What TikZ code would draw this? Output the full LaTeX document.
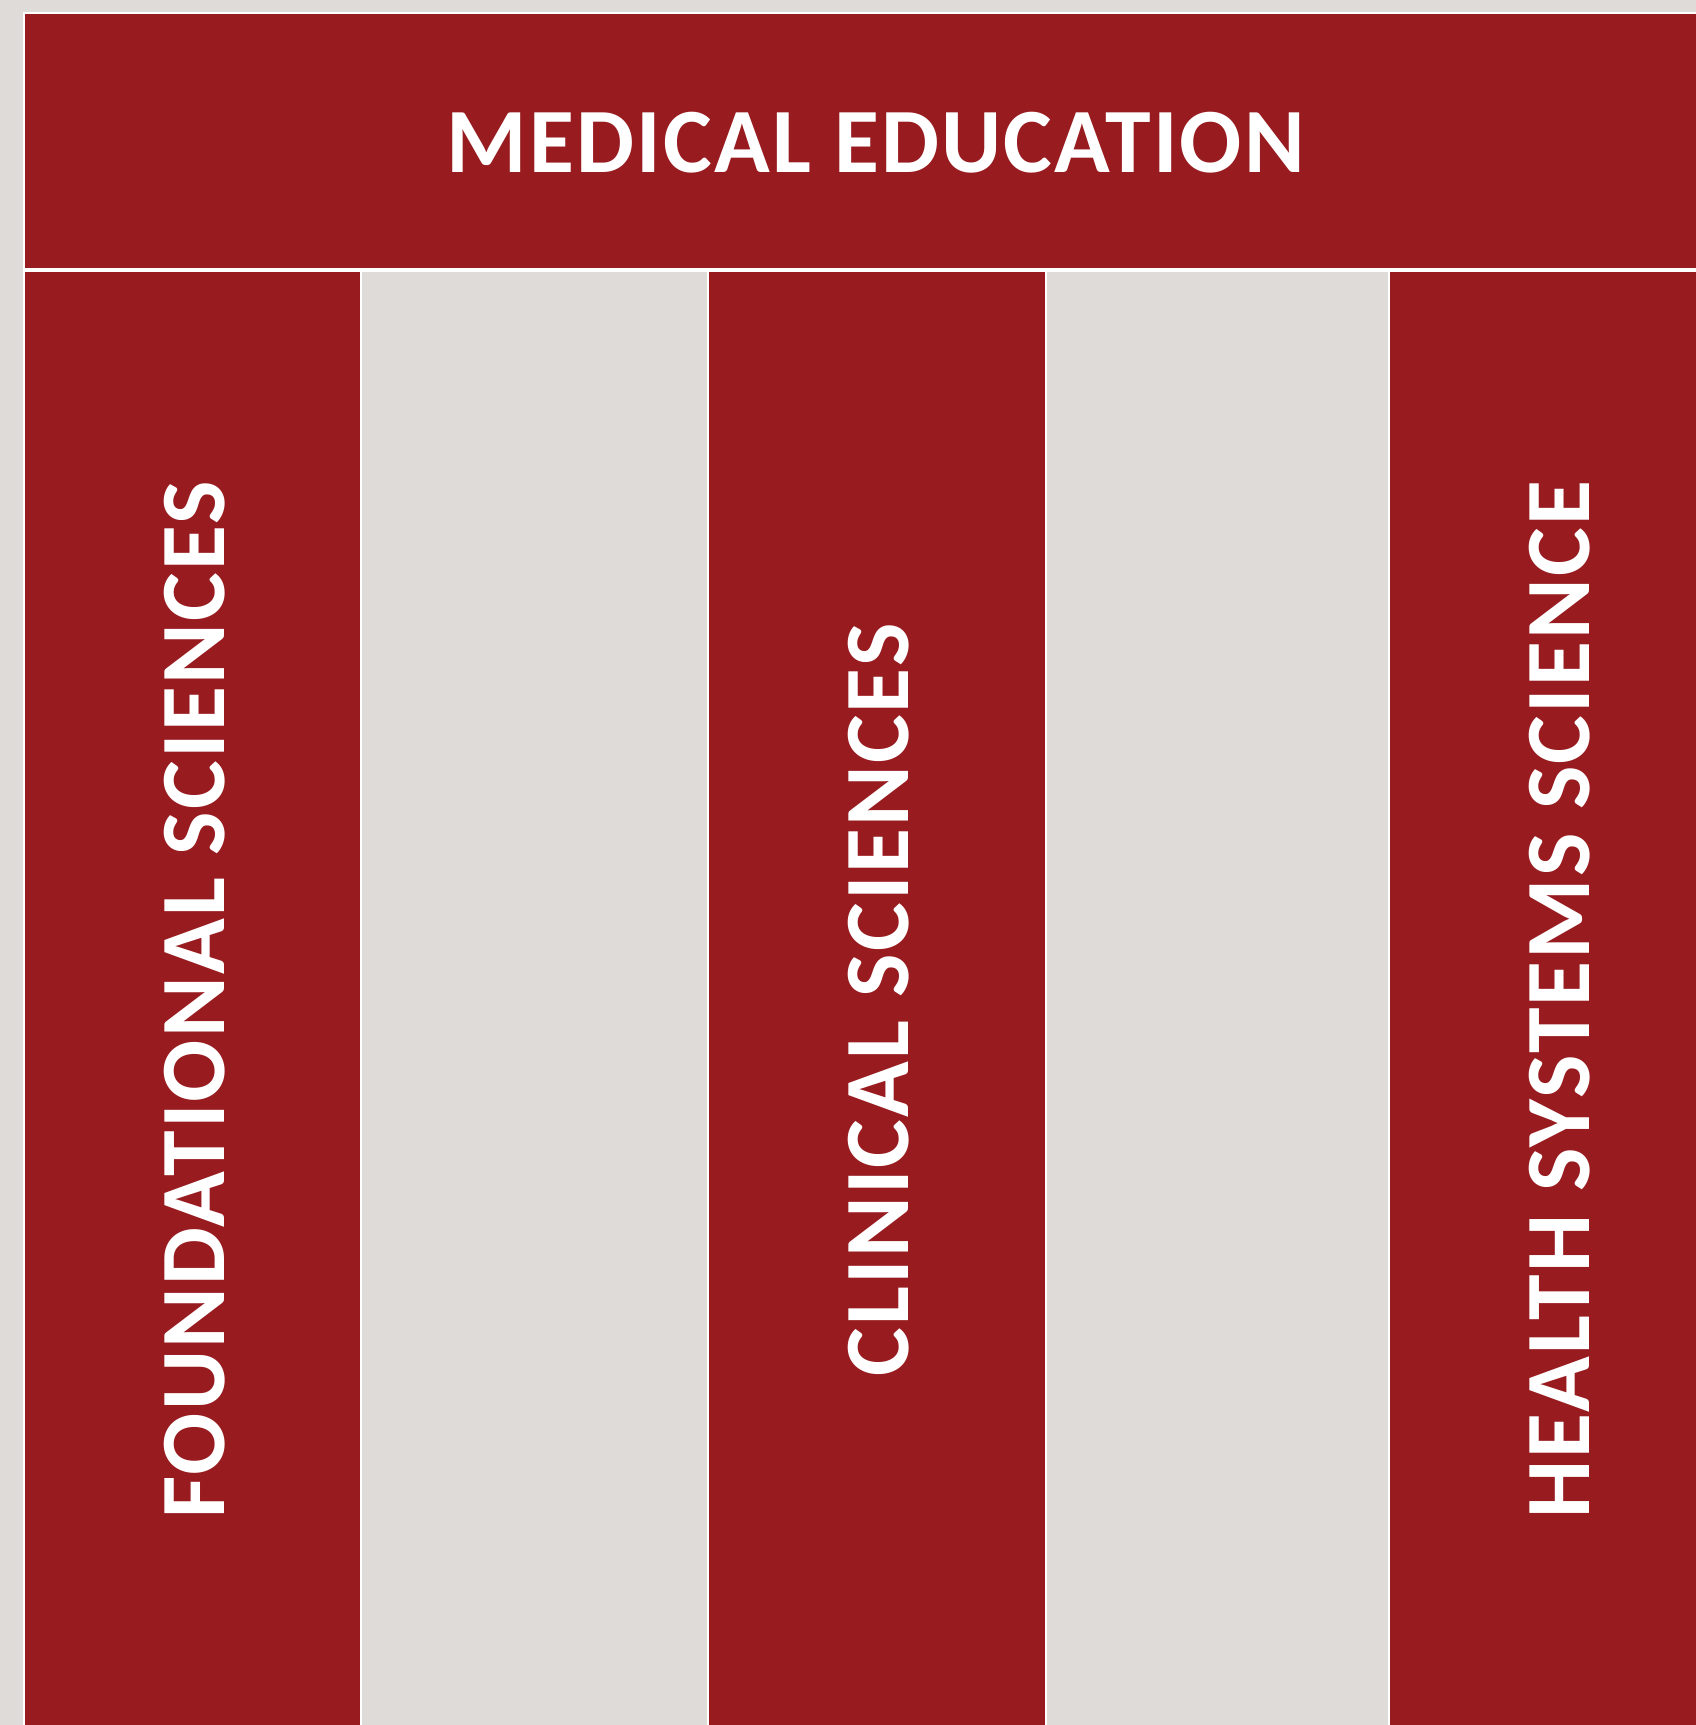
\documentclass[tikz,border=0pt]{standalone}
\usepackage{fontspec}
\setmainfont{Carlito}[LetterSpace=2.4]
\usepackage{tikz}
\definecolor{medred}{HTML}{981B1F}
\definecolor{medgrey}{HTML}{DEDBD8}
\tikzset{
  redbox/.style={fill=medred,draw=white,line width=2pt},
  greybox/.style={fill=medgrey,draw=white,line width=2pt},
  bigtext/.style={text=white,font=\bfseries\fontsize{92}{110}\selectfont,inner sep=0pt},
  sidetext/.style={bigtext,rotate=90}
}

\begin{document}
\begin{tikzpicture}[x=1pt,y=1pt]
            \useasboundingbox (0,0) rectangle (1696,1725);
            \clip (0,0) rectangle (1696,1725);
            \fill[medgrey] (0,0) rectangle (1696,1725);

            % header
            \filldraw[redbox] (24,1712) rectangle (1720,1456);
            \node[bigtext] (header) at (876,1582) {MEDICAL EDUCATION};

            % columns
            \filldraw[redbox] (24,1454) rectangle (361,-10);
            \filldraw[greybox] (361,1454) rectangle (708,-10);
            \filldraw[redbox] (708,1454) rectangle (1046,-10);
            \filldraw[greybox] (1046,1454) rectangle (1389,-10);
            \filldraw[redbox] (1389,1454) rectangle (1727,-10);

            \node[sidetext] (found) at (195,725) {FOUNDATIONAL SCIENCES};
            \node[sidetext] (clin) at (879,725) {CLINICAL SCIENCES};
            \node[sidetext] (hss) at (1560,725) {HEALTH SYSTEMS SCIENCE};
        \end{tikzpicture}
\end{document}
